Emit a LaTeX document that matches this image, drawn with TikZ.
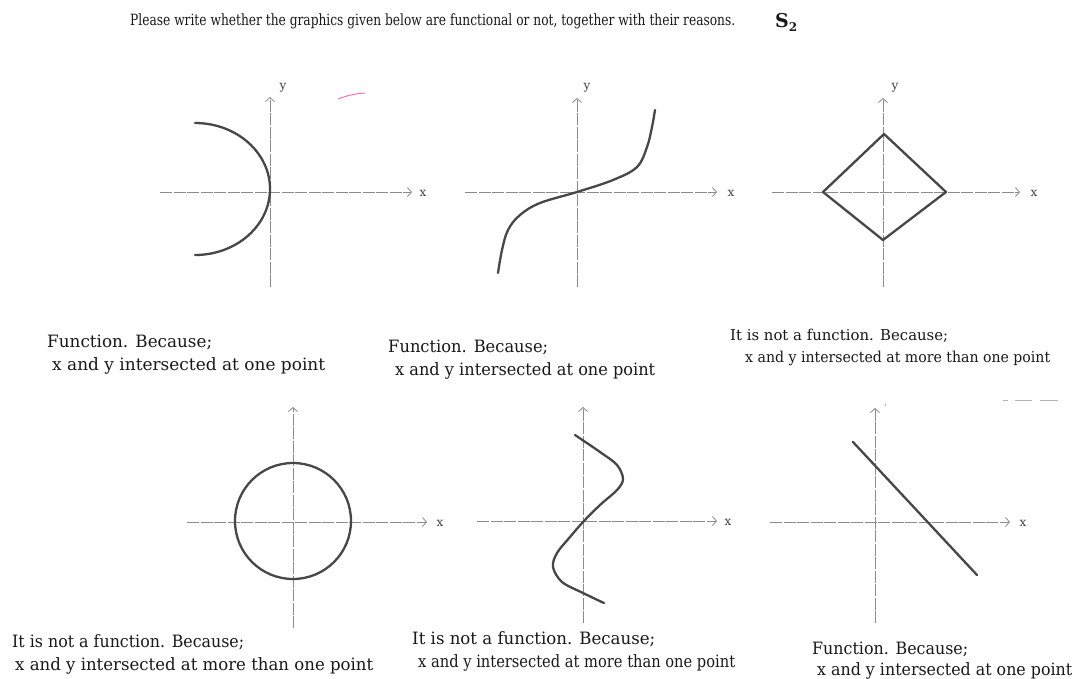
\documentclass[tikz,border=0pt]{standalone}
\usepackage{fontspec}
\setmainfont{DejaVu Serif}
\usepackage{graphicx}
\usetikzlibrary{arrows.meta}
\newcommand{\fitw}[2]{\resizebox{#1}{\height}{#2}}
\begin{document}
\begin{tikzpicture}[x=1pt,y=-1pt,
  axis/.style={draw=black!45, line width=0.8pt, dash pattern=on 12pt off 1.5pt},
  axarrow/.style={axis, -{Straight Barb[length=4pt,width=9pt,line width=0.8pt]}},
  curve/.style={draw=black!72, line width=2.3pt, line cap=round, line join=round},
  lbl/.style={anchor=base west, inner sep=0pt, text=black!90, font=\fontsize{17}{19}\selectfont},
  small/.style={anchor=base west, inner sep=0pt, text=black!90, font=\fontsize{15}{17}\selectfont},
  axlbl/.style={inner sep=0pt, text=black!75, font=\fontsize{12}{12}\selectfont}]
\useasboundingbox (0,0) rectangle (1077,678);
\fill[white] (0,0) rectangle (1077,678);

% title
\node[anchor=base west, inner sep=0pt, text=black!90, font=\fontsize{15.5}{17}\selectfont] (title) at (130,25)
  {\fitw{605pt}{Please write whether the graphics given below are functional or not, together with their reasons.}};
\node[anchor=base west, inner sep=0pt, text=black!90, font=\fontsize{19}{20}\selectfont\bfseries] (s2) at (775,27)
  {S\raisebox{-4pt}{\fontsize{12}{12}\selectfont\bfseries 2}};

% ---------- graph 1 ----------
\draw[axarrow] (160,192) -- (412,192);
\draw[axarrow] (270,287) -- (270,97);
\node[axlbl] (x1) at (423,193) {x};
\node[axlbl] (y1) at (283,88) {y};
\draw[curve] (195,123) arc[start angle=-90, end angle=90, x radius=75, y radius=66];
\draw[magenta!60, line width=0.9pt] (338,99) to[bend left=8] (365,93);

% ---------- graph 2 ----------
\draw[axarrow] (465,192) -- (717,192);
\draw[axarrow] (577,287) -- (577,98);
\node[axlbl] (x2) at (731,193) {x};
\node[axlbl] (y2) at (587,88) {y};
\draw[curve] plot[smooth, tension=0.6] coordinates {(498,273) (502,250) (508,230) (520,215) (540,203) (577,192) (613,180) (637,167) (647,147) (652,127) (655,110)};

% ---------- graph 3 ----------
\draw[axarrow] (772,192) -- (1020,192);
\draw[axarrow] (883,287) -- (883,98);
\node[axlbl] (x3) at (1034,193) {x};
\node[axlbl] (y3) at (895,88) {y};
\draw[curve] (884,134) -- (946,192) -- (883,240) -- (823,192) -- cycle;

% ---------- labels row 1 ----------
\node[lbl] (t1a) at (47,347) {\fitw{165pt}{Function. Because;}};
\node[lbl] (t1b) at (52,370) {\fitw{273pt}{x and y intersected at one point}};
\node[lbl] (t2a) at (388,352) {\fitw{160pt}{Function. Because;}};
\node[lbl] (t2b) at (395,375) {\fitw{260pt}{x and y intersected at one point}};
\node[small] (t3a) at (730,340) {\fitw{218pt}{It is not a function. Because;}};
\node[small] (t3b) at (745,362) {\fitw{305pt}{x and y intersected at more than one point}};

% ---------- graph 4 ----------
\draw[axarrow] (187,522) -- (427,522);
\draw[axarrow] (293,628) -- (293,407);
\node[axlbl] (x4) at (440,523) {x};
\draw[curve] (293,521) circle[radius=58];

% ---------- graph 5 ----------
\draw[axarrow] (477,521) -- (717,521);
\draw[axarrow] (583,623) -- (583,407);
\node[axlbl] (x5) at (728,522) {x};
\draw[curve] plot[smooth, tension=0.55] coordinates {(575,435) (600,452) (617,465) (623,479) (617,490) (600,505) (583,522) (570,537) (557,553) (553,567) (562,582) (583,593) (604,603)};

% ---------- graph 6 ----------
\draw[axarrow] (770,522) -- (1010,522);
\draw[axarrow] (875,623) -- (875,408);
\node[axlbl] (x6) at (1023,523) {x};
\draw[curve] (853,442) -- (977,575);
\draw[black!35, line width=0.8pt] (885,404) -- (886,406);
\draw[black!30, line width=1pt] (1003,400) -- (1008,400) (1015,400) -- (1032,400) (1040,400) -- (1058,400);

% ---------- labels row 2 ----------
\node[lbl] (t4a) at (12,647) {\fitw{232pt}{It is not a function. Because;}};
\node[lbl] (t4b) at (15,670) {\fitw{358pt}{x and y intersected at more than one point}};
\node[lbl] (t5a) at (412,644) {\fitw{243pt}{It is not a function. Because;}};
\node[lbl] (t5b) at (418,667) {\fitw{317pt}{x and y intersected at more than one point}};
\node[lbl] (t6a) at (812,654) {\fitw{156pt}{Function. Because;}};
\node[lbl] (t6b) at (817,675) {\fitw{255pt}{x and y intersected at one point}};
\end{tikzpicture}
\end{document}
